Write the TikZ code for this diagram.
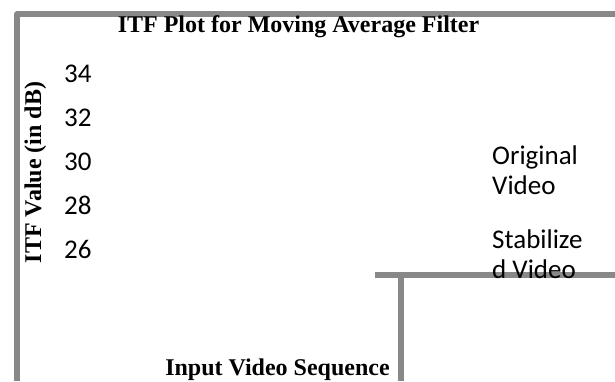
\documentclass[tikz,border=0pt]{standalone}
\usepackage{fontspec}
\setmainfont{Liberation Serif}
\newfontfamily\calibri{Carlito}
\definecolor{axisgray}{RGB}{136,136,136}
\tikzset{
	frameline/.style={line width=5.5pt, color=axisgray, line join=round},
	titletext/.style={inner sep=0pt, font=\fontsize{24}{28}\selectfont\bfseries},
	ticktext/.style={inner sep=0pt, anchor=base west, font=\calibri\fontsize{27}{30}\selectfont},
	legendtext/.style={inner sep=0pt, anchor=base west, align=left, font=\calibri\fontsize{27}{30}\selectfont}
}

\begin{document}
\begin{tikzpicture}[x=1pt, y=-1pt]
		%%%%% FRAME %%%%%
		\useasboundingbox (0, 0) rectangle (615, 381);
		
		\draw[frameline] (17, 381) -- (17, 14) -- (615, 14);
		\draw[frameline] (375, 275) -- (615, 275);
		\draw[frameline] (401, 275) -- (401, 381);
		
		%%%%% TEXTS %%%%%
		\node[titletext, anchor=base] (title) at (298.5, 32) {ITF Plot for Moving Average Filter};
		\node[titletext, anchor=base, rotate=90] (ylabel) at (41, 172.5) {ITF Value (in dB)};
		\node[titletext, anchor=base] (xlabel) at (277.5, 375) {Input Video Sequence};
		
		\foreach \v [count=\i from 0] in {34, 32, 30, 28, 26}
			\node[ticktext] (tick\v) at (64, 82 + 44*\i) {\v};
		
		% base of a two-line node is its last line
		\node[legendtext] (orig) at (492, 194) {Original\\Video};
		\node[legendtext] (stab) at (492, 278) {Stabilize\\d Video};
		
		%%%%% END %%%%%
	\end{tikzpicture}
\end{document}
